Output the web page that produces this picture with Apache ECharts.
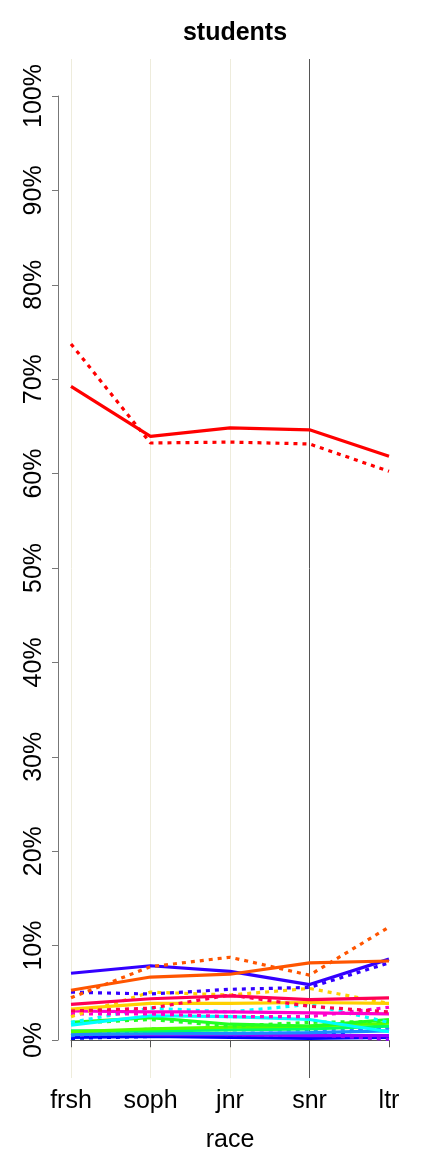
<!DOCTYPE html>
<html>
<head>
<meta charset="utf-8">
<script src="https://cdn.jsdelivr.net/npm/echarts@6/dist/echarts.min.js"></script>
<style>
html, body { margin: 0; padding: 0; background: #fff; }
#chart { width: 432px; height: 1152px; }
</style>
</head>
<body>
<div id="chart"></div>
<script>
// categories on the x axis
var categories = ['frsh', 'soph', 'jnr', 'snr', 'ltr']

// share of students (%) per group, solid = group A, dotted = group B
var redSolid = [69.3, 64.0, 64.9, 64.7, 61.9]
var redDotted = [73.8, 63.3, 63.4, 63.2, 60.3]
var orangeSolid = [5.3, 6.7, 7.0, 8.2, 8.4]
var orangeDotted = [4.5, 7.8, 8.8, 6.9, 12.0]
var indigoSolid = [7.1, 7.9, 7.3, 5.9, 8.6]
var indigoDotted = [5.1, 4.9, 5.4, 5.6, 8.2]
var crimsonSolid = [3.8, 4.4, 4.7, 4.3, 4.5]
var crimsonDotted = [3.1, 3.4, 4.8, 3.6, 3.0]
var yellowSolid = [3.3, 3.9, 3.9, 4.0, 3.9]
var yellowDotted = [2.5, 5.1, 4.8, 5.5, 3.9]
var magentaSolid = [3.1, 3.0, 3.0, 2.9, 2.8]
var magentaDotted = [2.8, 2.8, 2.5, 2.5, 3.5]
var cyanSolid = [1.6, 2.6, 2.5, 2.2, 0.9]
var cyanDotted = [1.9, 3.4, 3.0, 3.8, 1.9]
var greenSolid = [1.9, 2.4, 1.7, 1.5, 2.2]
var greenDotted = [1.8, 2.2, 1.5, 1.9, 2.0]
var limeSolid = [0.9, 1.2, 1.4, 1.5, 1.8]
var springSolid = [1.0, 1.0, 1.1, 1.2, 1.5]
var azureSolid = [0.6, 0.7, 0.7, 0.8, 1.0]
var azureDotted = [0.5, 1.2, 1.1, 1.1, 1.3]
var violetSolid = [0.7, 0.6, 0.6, 0.5, 0.5]
var violetDotted = [0.5, 0.8, 0.6, 0.6, 0.1]
var blueSolid = [0.3, 0.4, 0.3, 0.2, 0.3]
var blueDotted = [0.2, 0.4, 0.4, 0.4, 1.4]

var lines = [
  { data: blueDotted, color: '#0000ff', dotted: true },
  { data: blueSolid, color: '#0000ff', dotted: false },
  { data: violetDotted, color: '#9900ff', dotted: true },
  { data: violetSolid, color: '#9900ff', dotted: false },
  { data: azureDotted, color: '#1a8cff', dotted: true },
  { data: azureSolid, color: '#1a8cff', dotted: false },
  { data: springSolid, color: '#00ff66', dotted: false },
  { data: limeSolid, color: '#55ff00', dotted: false },
  { data: greenDotted, color: '#22ff22', dotted: true },
  { data: greenSolid, color: '#22ff22', dotted: false },
  { data: cyanDotted, color: '#00ffff', dotted: true },
  { data: cyanSolid, color: '#00ffff', dotted: false },
  { data: magentaDotted, color: '#ff00cc', dotted: true },
  { data: magentaSolid, color: '#ff00cc', dotted: false },
  { data: yellowDotted, color: '#ffd000', dotted: true },
  { data: yellowSolid, color: '#ffd000', dotted: false },
  { data: crimsonDotted, color: '#ff0055', dotted: true },
  { data: crimsonSolid, color: '#ff0055', dotted: false },
  { data: indigoDotted, color: '#3300ff', dotted: true },
  { data: indigoSolid, color: '#3300ff', dotted: false },
  { data: orangeDotted, color: '#ff5500', dotted: true },
  { data: orangeSolid, color: '#ff5500', dotted: false },
  { data: redDotted, color: '#ff0000', dotted: true },
  { data: redSolid, color: '#ff0000', dotted: false }
]

var font = 'Liberation Sans, Arial, sans-serif'
var chart = echarts.init(document.getElementById('chart'))

var series = lines.map(function(l) {
  return {
    type: 'line',
    xAxisIndex: 0,
    yAxisIndex: 0,
    data: l.data,
    symbol: 'none',
    silent: true,
    animation: false,
    lineStyle: {
      color: l.color,
      width: 3.2,
      type: l.dotted ? [4, 5] : 'solid'
    }
  }
})

chart.setOption({
  backgroundColor: '#fff',
  title: {
    text: 'students',
    left: 230,
    top: 16,
    textAlign: 'center',
    textStyle: { fontFamily: font, fontSize: 25, fontWeight: 'bold', color: '#000' }
  },
  grid: [
    { left: 71, right: 43, top: 59, bottom: 74, outerBoundsMode: 'none' },
    { left: 58, right: 43, top: 96, bottom: 112, outerBoundsMode: 'none' }
  ],
  xAxis: [
    {
      gridIndex: 0,
      type: 'category',
      data: categories,
      boundaryGap: false,
      name: 'race',
      nameLocation: 'middle',
      nameGap: 50,
      nameTextStyle: { fontFamily: font, fontSize: 25, color: '#000' },
      axisLine: { lineStyle: { color: '#555', width: 1 } },
      axisTick: { length: 7, lineStyle: { color: '#555' } },
      axisLabel: { fontFamily: font, fontSize: 25, color: '#000', margin: 11 },
      splitLine: {
        show: true,
        lineStyle: { color: ['#eeecdc', '#eeecdc', '#eeecdc', '#555555', 'rgba(0,0,0,0)'], width: 1 }
      }
    },
    { gridIndex: 1, type: 'value', show: false }
  ],
  yAxis: [
    { gridIndex: 0, type: 'value', min: -4, max: 104, show: false },
    {
      gridIndex: 1,
      type: 'value',
      min: 0,
      max: 100,
      interval: 10,
      axisLine: { show: true, lineStyle: { color: '#777', width: 1 } },
      axisTick: { show: true, length: 6, lineStyle: { color: '#777' } },
      axisLabel: {
        fontFamily: font,
        fontSize: 25,
        color: '#000',
        rotate: 90,
        margin: 11,
        formatter: function(v) { return v + '%' }
      },
      splitLine: { show: false }
    }
  ],
  series: series
})
</script>
</body>
</html>
